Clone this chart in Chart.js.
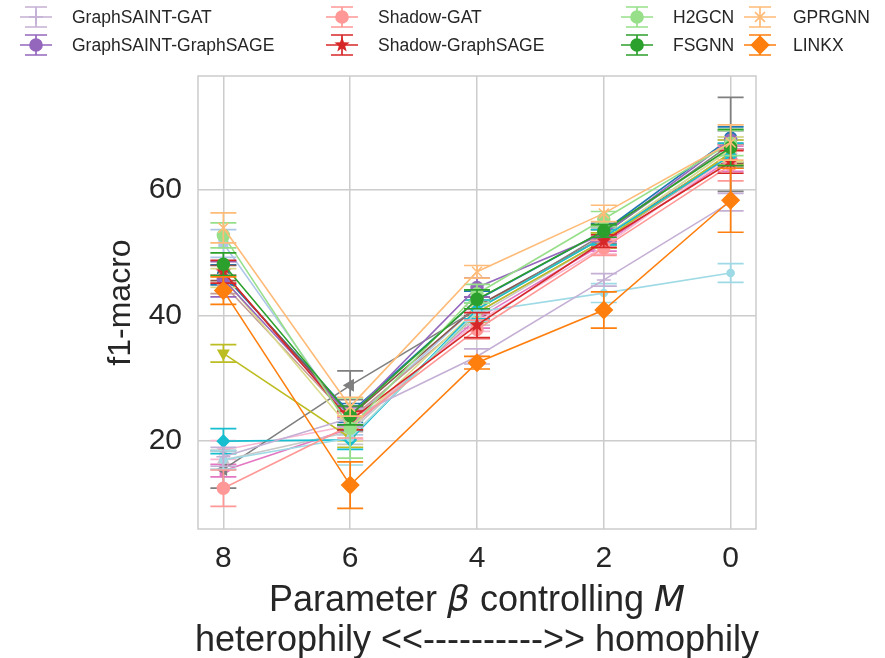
<!DOCTYPE html>
<html>
<head>
<meta charset="utf-8">
<title>f1-macro vs beta</title>
<script src="https://cdn.jsdelivr.net/npm/chart.js@4.4.1/dist/chart.umd.min.js"></script>
<style>
  html, body { margin: 0; padding: 0; background: #fff; }
  #wrap { width: 885px; height: 658px; }
</style>
</head>
<body>
<div id="wrap"><canvas id="f1Chart" width="885" height="658"></canvas></div>
<script>
// x positions (beta) and y ticks
const betaValues = [8, 6, 4, 2, 0];
const yTickValues = [20, 40, 60];

// series whose legend rows are cut off at the top of the figure
const cutBlue = [46.5, 24.5, 42.5, 53.5, 68.3];
const cutBlueErr = [1.6, 1.5, 1.4, 1.2, 1.8];
const cutLightBlue = [51.5, 23.0, 41.5, 52.5, 66.5];
const cutLightBlueErr = [2.2, 2.0, 1.5, 1.2, 2.0];
const cutBrown = [46.8, 24.0, 41.5, 52.5, 65.8];
const cutBrownErr = [1.2, 1.5, 1.5, 1.2, 1.5];
const cutLightBrown = [45.0, 23.5, 40.5, 52.0, 65.5];
const cutLightBrownErr = [1.5, 2.0, 1.5, 1.2, 1.8];
const cutPink = [15.3, 22.0, 39.5, 51.5, 65.0];
const cutPinkErr = [1.0, 1.8, 1.5, 1.2, 2.0];
const cutLightPink = [18.6, 22.5, 39.0, 51.0, 65.5];
const cutLightPinkErr = [1.5, 2.2, 1.5, 1.2, 2.0];
const cutGray = [15.5, 28.9, 41.0, 53.0, 67.3];
const cutGrayErr = [3.0, 2.3, 1.5, 1.5, 7.5];
const cutLightGray = [17.0, 21.5, 40.0, 52.0, 66.0];
const cutLightGrayErr = [1.5, 2.0, 1.5, 1.2, 2.0];
const cutOlive = [34.0, 20.5, 40.5, 52.0, 66.0];
const cutOliveErr = [1.4, 1.5, 1.5, 1.2, 2.0];
const cutLightOlive = [46.0, 22.0, 41.0, 52.5, 66.5];
const cutLightOliveErr = [1.5, 2.0, 1.5, 1.2, 2.0];
const cutCyan = [20.0, 20.2, 41.0, 52.5, 65.5];
const cutCyanErr = [2.0, 1.5, 1.5, 1.2, 2.0];
const cutLightCyan = [17.0, 20.5, 40.6, 43.6, 46.8];
const cutLightCyanErr = [1.5, 4.3, 1.5, 1.5, 1.5];

// series visible in the legend
const graphsaintGat = [17.5, 23.7, 33.5, 45.7, 58.1];
const graphsaintGatErr = [1.5, 1.5, 1.2, 1.0, 1.4];
const graphsaintSage = [45.8, 24.0, 44.5, 53.0, 68.0];
const graphsaintSageErr = [2.8, 1.5, 1.5, 1.2, 1.5];
const shadowGat = [12.5, 22.5, 37.8, 50.8, 64.0];
const shadowGatErr = [2.9, 2.0, 1.5, 1.2, 2.5];
const shadowSage = [47.0, 23.3, 38.5, 51.9, 64.5];
const shadowSageErr = [1.8, 1.5, 2.0, 1.0, 1.8];
const h2gcn = [52.8, 22.1, 43.5, 55.4, 67.5];
const h2gcnErr = [2.0, 4.8, 1.5, 1.2, 2.0];
const fsgnn = [48.2, 24.1, 42.6, 53.5, 66.8];
const fsgnnErr = [1.8, 1.5, 1.5, 1.0, 2.9];
const gprgnn = [54.0, 25.5, 47.0, 56.3, 67.6];
const gprgnnErr = [2.4, 1.5, 1.0, 1.3, 2.8];
const linkx = [44.0, 13.0, 32.5, 40.9, 58.4];
const linkxErr = [2.2, 3.7, 1.0, 2.9, 5.1];

const FONT = "'Liberation Sans', Arial, sans-serif";
const TEXT = '#262626';

// filled 5-point star, used like matplotlib's '*'
function starMarker(color, r) {
  const c = document.createElement('canvas');
  c.width = c.height = Math.ceil(r * 2 + 2);
  const g = c.getContext('2d');
  const m = c.width / 2;
  g.beginPath();
  for (let k = 0; k < 10; k++) {
    const rad = k % 2 === 0 ? r : r * 0.42;
    const a = -Math.PI / 2 + k * Math.PI / 5;
    g.lineTo(m + rad * Math.cos(a), m + rad * Math.sin(a));
  }
  g.closePath();
  g.fillStyle = color;
  g.fill();
  return c;
}

// label, means, errors, colour, marker, shown in legend
const seriesList = [
  ['cut-off 1', cutBlue, cutBlueErr, '#1f77b4', 'circle', 0, false],
  ['cut-off 2', cutLightBlue, cutLightBlueErr, '#aec7e8', 'rect', 0, false],
  ['cut-off 3', cutBrown, cutBrownErr, '#8c564b', 'rect', 0, false],
  ['cut-off 4', cutLightBrown, cutLightBrownErr, '#c49c94', 'circle', 0, false],
  ['cut-off 5', cutPink, cutPinkErr, '#e377c2', 'triangle', 90, false],
  ['cut-off 6', cutLightPink, cutLightPinkErr, '#f7b6d2', 'star', 0, false],
  ['cut-off 7', cutGray, cutGrayErr, '#7f7f7f', 'triangle', -90, false],
  ['cut-off 8', cutLightGray, cutLightGrayErr, '#c7c7c7', 'triangle', 0, false],
  ['cut-off 9', cutOlive, cutOliveErr, '#bcbd22', 'triangle', 180, false],
  ['cut-off 10', cutLightOlive, cutLightOliveErr, '#dbdb8d', 'circle', 0, false],
  ['cut-off 11', cutCyan, cutCyanErr, '#17becf', 'rectRot', 0, false],
  ['cut-off 12', cutLightCyan, cutLightCyanErr, '#9edae5', 'dot', 0, false],
  ['GraphSAINT-GAT', graphsaintGat, graphsaintGatErr, '#c5b0d5', 'cross', 0, true],
  ['GraphSAINT-GraphSAGE', graphsaintSage, graphsaintSageErr, '#9467bd', 'circle', 0, true],
  ['Shadow-GAT', shadowGat, shadowGatErr, '#ff9896', 'circle', 0, true],
  ['Shadow-GraphSAGE', shadowSage, shadowSageErr, '#d62728', 'star', 0, true],
  ['H2GCN', h2gcn, h2gcnErr, '#98df8a', 'circle', 0, true],
  ['FSGNN', fsgnn, fsgnnErr, '#2ca02c', 'circle', 0, true],
  ['GPRGNN', gprgnn, gprgnnErr, '#ffbb78', 'crossRot', 0, true],
  ['LINKX', linkx, linkxErr, '#ff7f0e', 'bigDiamond', 0, true]
];

const datasets = seriesList.map(function (s, i) {
  let style = s[4];
  let radius = 6;
  if (style === 'star') style = starMarker(s[3], 8);
  if (style === 'bigDiamond') { style = 'rectRot'; radius = 8.5; }
  if (style === 'dot') radius = 3.5;
  if (style === 'cross' || style === 'crossRot') radius = 7;
  return {
    label: s[0],
    data: betaValues.map((b, j) => ({ x: b, y: s[1][j] })),
    errors: s[2],
    inLegend: s[6],
    borderColor: s[3],
    backgroundColor: s[3],
    borderWidth: 1.6,
    pointStyle: style,
    pointRotation: s[5],
    pointRadius: radius,
    pointBorderWidth: 1.5,
    pointBackgroundColor: s[3],
    pointBorderColor: s[3],
    tension: 0,
    order: -i
  };
});

// plot frame + error bars drawn right before each series so stacking follows plot order
const errorBarPlugin = {
  id: 'errorBars',
  beforeDatasetsDraw(chart) {
    const a = chart.chartArea, c = chart.ctx;
    c.save();
    c.strokeStyle = '#cccccc';
    c.lineWidth = 1.5;
    c.strokeRect(a.left, a.top, a.right - a.left, a.bottom - a.top);
    c.restore();
  },
  beforeDatasetDraw(chart, args) {
    const ds = chart.data.datasets[args.index];
    const xs = chart.scales.x, ys = chart.scales.y, c = chart.ctx;
    const cap = 13;
    c.save();
    c.strokeStyle = ds.borderColor;
    c.lineWidth = 1.7;
    ds.data.forEach(function (p, j) {
      const e = ds.errors[j];
      const px = xs.getPixelForValue(p.x);
      const top = ys.getPixelForValue(p.y + e);
      const bot = ys.getPixelForValue(p.y - e);
      c.beginPath();
      c.moveTo(px, top); c.lineTo(px, bot);
      c.moveTo(px - cap, top); c.lineTo(px + cap, top);
      c.moveTo(px - cap, bot); c.lineTo(px + cap, bot);
      c.stroke();
    });
    c.restore();
  }
};

// 4-column legend with errorbar handles (only the two rows that are visible)
const legendPlugin = {
  id: 'colLegend',
  afterDraw(chart) {
    const c = chart.ctx;
    const colHandle = [36, 342, 637, 760];
    const colText = [72, 378, 673, 793];
    const rowY = [17, 45];
    let k = 0;
    chart.data.datasets.forEach(function (ds) {
      if (!ds.inLegend) return;
      const col = Math.floor(k / 2), row = k % 2;
      k++;
      const hx = colHandle[col], hy = rowY[row];
      c.save();
      c.strokeStyle = ds.borderColor;
      c.lineWidth = 1.7;
      c.beginPath();
      c.moveTo(hx - 16, hy); c.lineTo(hx + 16, hy);
      c.moveTo(hx, hy - 10); c.lineTo(hx, hy + 10);
      c.moveTo(hx - 11, hy - 10); c.lineTo(hx + 11, hy - 10);
      c.moveTo(hx - 11, hy + 10); c.lineTo(hx + 11, hy + 10);
      c.stroke();
      c.fillStyle = ds.pointBackgroundColor;
      Chart.helpers.drawPoint(c, {
        pointStyle: ds.pointStyle,
        rotation: ds.pointRotation,
        radius: ds.pointRadius,
        borderWidth: ds.pointBorderWidth
      }, hx, hy);
      c.fillStyle = TEXT;
      c.font = '17.5px ' + FONT;
      c.textBaseline = 'middle';
      c.textAlign = 'left';
      c.fillText(ds.label, colText[col], hy + 1);
      c.restore();
    });
  }
};

// x-axis title with italic math symbols
const xTitlePlugin = {
  id: 'xTitle',
  afterDraw(chart) {
    const c = chart.ctx, a = chart.chartArea;
    const cx = (a.left + a.right) / 2;
    const normal = '36px ' + FONT;
    const italic = "italic 36px 'DejaVu Sans', sans-serif";
    const parts = [['Parameter ', normal], ['\u03B2', italic], [' controlling ', normal], ['M', italic]];
    c.save();
    c.fillStyle = TEXT;
    c.textBaseline = 'alphabetic';
    c.textAlign = 'left';
    let total = 0;
    parts.forEach(function (p) { c.font = p[1]; total += c.measureText(p[0]).width; });
    let x = cx - total / 2;
    parts.forEach(function (p) { c.font = p[1]; c.fillText(p[0], x, 611); x += c.measureText(p[0]).width; });
    c.font = normal;
    c.textAlign = 'center';
    c.fillText('heterophily <<---------->> homophily', cx, 651);
    c.restore();
  }
};

const canvas = document.getElementById('f1Chart');
new Chart(canvas, {
  type: 'line',
  data: { datasets: datasets },
  options: {
    responsive: false,
    animation: false,
    devicePixelRatio: 1,
    layout: { padding: { top: 76, right: 129, bottom: 0, left: 0 } },
    plugins: { legend: { display: false }, tooltip: { enabled: false } },
    scales: {
      x: {
        type: 'linear',
        reverse: true,
        min: -0.4,
        max: 8.4,
        afterBuildTicks: function (s) { s.ticks = betaValues.map(v => ({ value: v })); },
        afterFit: function (s) { s.height = 129; },
        grid: { color: '#cccccc', lineWidth: 1.5, drawTicks: false },
        border: { display: false },
        ticks: { color: TEXT, font: { family: FONT, size: 30 }, padding: 12, maxRotation: 0 }
      },
      y: {
        min: 6,
        max: 78.2,
        afterBuildTicks: function (s) { s.ticks = yTickValues.map(v => ({ value: v })); },
        afterFit: function (s) { s.width = 198; },
        grid: { color: '#cccccc', lineWidth: 1.5, drawTicks: false },
        border: { display: false },
        ticks: { color: TEXT, font: { family: FONT, size: 30 }, padding: 16 },
        title: {
          display: true,
          text: 'f1-macro',
          color: TEXT,
          font: { family: FONT, size: 32 },
          padding: { top: 102, bottom: 0 }
        }
      }
    }
  },
  plugins: [errorBarPlugin, legendPlugin, xTitlePlugin]
});
</script>
</body>
</html>
